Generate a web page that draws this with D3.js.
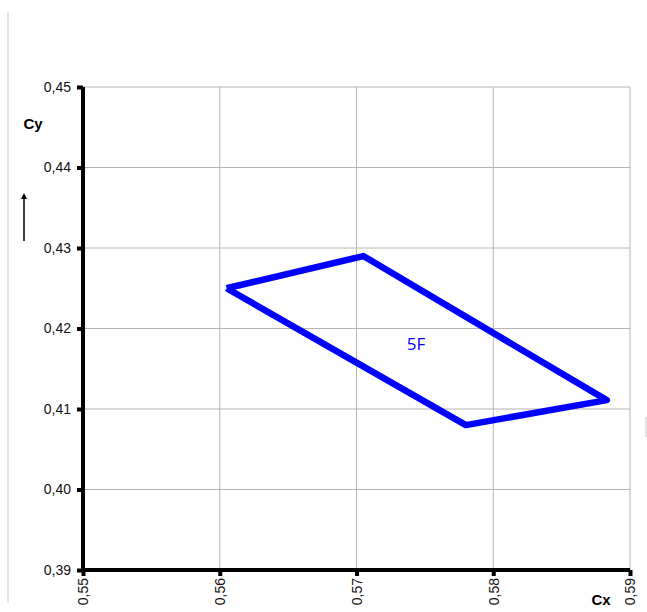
<!DOCTYPE html>
<html><head><meta charset="utf-8">
<script src="https://cdn.jsdelivr.net/npm/d3@7"></script>
<style>body{margin:0;background:#fff}svg{display:block}</style>
</head><body>
<script>
const cx = [0.5605, 0.5705, 0.5883, 0.5780, 0.5605];
const cy = [0.4250, 0.4290, 0.4111, 0.4080, 0.4250];
const xTicks = [0.55, 0.56, 0.57, 0.58, 0.59];
const yTicks = [0.39, 0.40, 0.41, 0.42, 0.43, 0.44, 0.45];
const seriesLabel = "5F";

const W = 647, H = 612;
const svg = d3.select("body").append("svg").attr("width", W).attr("height", H);
const x = d3.scaleLinear().domain([0.55, 0.59]).range([83, 630]);
const y = d3.scaleLinear().domain([0.39, 0.45]).range([570, 87]);
const fmt = d => d3.format(".2f")(d).replace(".", ",");

// outer frame lines
svg.append("line").attr("x1", 8).attr("x2", 8).attr("y1", 12).attr("y2", 603).attr("stroke", "#c8c8c8").attr("stroke-width", 1);
svg.append("line").attr("x1", 646).attr("x2", 646).attr("y1", 417).attr("y2", 437).attr("stroke", "#c8c8c8").attr("stroke-width", 1);

// gridlines
const g = svg.append("g");
g.selectAll(".gx").data(xTicks.slice(1)).enter().append("line")
  .attr("x1", d => x(d)).attr("x2", d => x(d)).attr("y1", y(0.45)).attr("y2", y(0.39))
  .attr("stroke", "#b4b4b4").attr("stroke-width", 1);
g.selectAll(".gy").data(yTicks.slice(1)).enter().append("line")
  .attr("x1", x(0.55)).attr("x2", x(0.59)).attr("y1", d => y(d)).attr("y2", d => y(d))
  .attr("stroke", "#b4b4b4").attr("stroke-width", 1);

// series
const line = d3.line().x((d, i) => x(cx[i])).y((d, i) => y(cy[i]));
svg.append("path").datum(cx).attr("d", line)
  .attr("fill", "none").attr("stroke", "#0000ff").attr("stroke-width", 6.5)
  .attr("stroke-linejoin", "round");
svg.append("text").attr("x", 416).attr("y", 350).attr("text-anchor", "middle")
  .attr("font-family", "Open Sans, sans-serif").attr("font-size", 17).attr("fill", "#0000ff").text(seriesLabel);

// axes
const yAxis = svg.append("g").attr("transform", `translate(${x(0.55)},0)`)
  .call(d3.axisLeft(y).tickValues(yTicks).tickFormat(fmt).tickSize(6).tickPadding(6));
const xAxis = svg.append("g").attr("transform", `translate(0,${y(0.39)})`)
  .call(d3.axisBottom(x).tickValues(xTicks).tickFormat(fmt).tickSize(6).tickPadding(6));
[yAxis, xAxis].forEach(a => {
  a.select(".domain").attr("stroke", "#000").attr("stroke-width", 4);
  a.selectAll(".tick line").attr("stroke", "#000").attr("stroke-width", 4);
  a.selectAll("text").attr("font-family", "Liberation Sans, Arial, sans-serif").attr("font-size", 14).attr("fill", "#111");
});
yAxis.select(".domain").attr("d", `M0,${y(0.45)}V${y(0.39)}`);
xAxis.select(".domain").attr("d", `M${x(0.55)},0H${x(0.59)}`);
xAxis.selectAll(".tick text")
  .attr("transform", "rotate(-90)")
  .attr("text-anchor", "end").attr("dy", "0.35em").attr("x", -8).attr("y", 0);

// axis titles
svg.append("text").attr("x", 33).attr("y", 129).attr("text-anchor", "middle")
  .attr("font-family", "Liberation Sans, Arial, sans-serif").attr("font-weight", "bold").attr("font-size", 15).text("Cy");
svg.append("text").attr("x", 601).attr("y", 605).attr("text-anchor", "middle")
  .attr("font-family", "Liberation Sans, Arial, sans-serif").attr("font-weight", "bold").attr("font-size", 15).text("Cx");
// arrow
svg.append("defs").append("marker").attr("id", "ah").attr("viewBox", "0 0 10 10")
  .attr("refX", 5).attr("refY", 5).attr("markerWidth", 4).attr("markerHeight", 5).attr("orient", "auto")
  .append("path").attr("d", "M0,0L10,5L0,10z").attr("fill", "#000");
svg.append("line").attr("x1", 24).attr("x2", 24).attr("y1", 241).attr("y2", 196)
  .attr("stroke", "#000").attr("stroke-width", 1.5).attr("marker-end", "url(#ah)");
</script>
</body></html>
